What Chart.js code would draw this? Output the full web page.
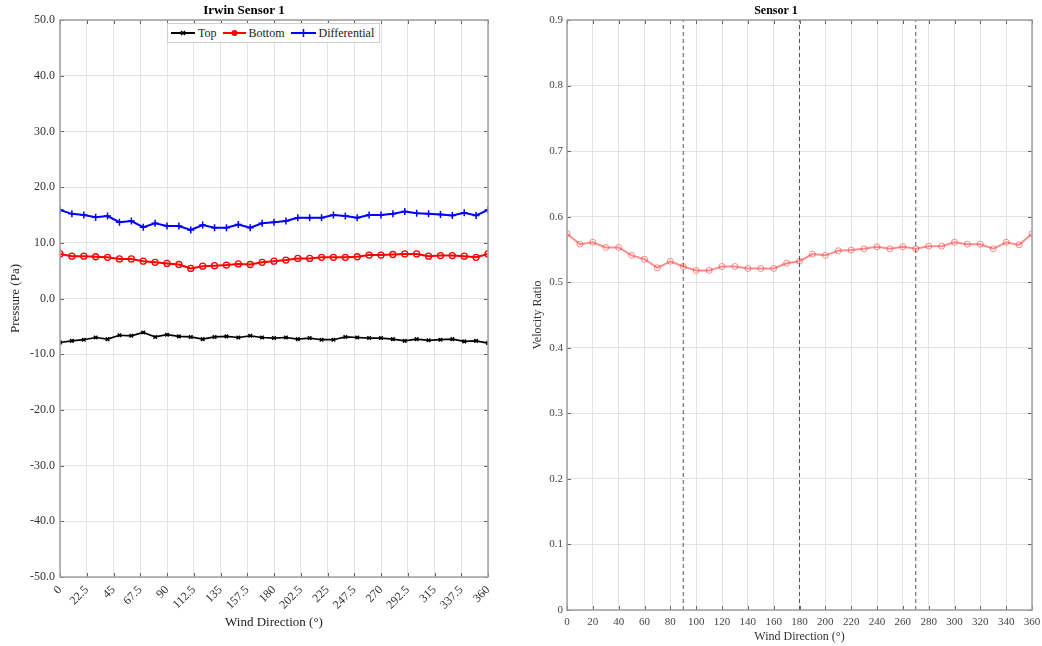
<!DOCTYPE html>
<html>
<head>
<meta charset="utf-8">
<title>Irwin Sensor 1</title>
<script src="https://cdn.jsdelivr.net/npm/chart.js@4.4.1/dist/chart.umd.min.js"></script>
<style>
    body { margin: 0; background: #fff; width: 1042px; height: 646px; overflow: hidden; position: relative; font-family: "Liberation Serif", "Times New Roman", serif; }
    #painelEsquerdo { position: absolute; left: 0; top: 0; width: 520px; height: 646px; }
    #painelDireito { position: absolute; left: 520px; top: 0; width: 522px; height: 646px; }
    .legenda { position: absolute; left: 167px; top: 23px; width: 213px; height: 20px; box-sizing: border-box; border: 1px solid #cfcfcf; background: #fff; display: flex; align-items: center; font-size: 12px; color: #222; padding-left: 2px; }
    .legenda .item { display: flex; align-items: center; margin-right: 5px; }
    .legenda svg { margin-right: 2px; }
</style>
</head>
<body>
<div id="painelEsquerdo">
    <canvas id="graficoPressao" width="520" height="646"></canvas>
    <div class="legenda">
        <span class="item">
            <svg width="26" height="10"><line x1="1" y1="5" x2="25" y2="5" stroke="#000" stroke-width="2"/><path d="M11 3 L15 7 M15 3 L11 7" stroke="#000" stroke-width="1.5"/></svg>Top
        </span>
        <span class="item">
            <svg width="25" height="10"><line x1="1" y1="5" x2="24" y2="5" stroke="#f00" stroke-width="2"/><circle cx="12.5" cy="5" r="3" fill="#f00"/></svg>Bottom
        </span>
        <span class="item">
            <svg width="27" height="10"><line x1="1" y1="5" x2="26" y2="5" stroke="#00f" stroke-width="2"/><path d="M13.5 1 L13.5 9" stroke="#00f" stroke-width="1.5"/></svg>Differential
        </span>
    </div>
</div>
<div id="painelDireito">
    <canvas id="graficoRazao" width="522" height="646"></canvas>
</div>

<script>
// direcoes do vento (graus) em que cada leitura foi feita
const direcoes = [0, 10, 20, 30, 40, 50, 60, 70, 80, 90, 100, 110, 120, 130, 140, 150, 160, 170, 180,
    190, 200, 210, 220, 230, 240, 250, 260, 270, 280, 290, 300, 310, 320, 330, 340, 350, 360];

const pressaoTopo = [-7.9, -7.6, -7.4, -7.0, -7.3, -6.6, -6.7, -6.1, -6.9, -6.5, -6.8, -6.9, -7.3,
    -6.9, -6.8, -7.0, -6.7, -7.0, -7.1, -7.0, -7.3, -7.1, -7.4, -7.4, -6.9, -7.0, -7.1, -7.1,
    -7.3, -7.6, -7.3, -7.5, -7.4, -7.3, -7.7, -7.6, -8.0];

const pressaoBase = [8.0, 7.6, 7.6, 7.5, 7.4, 7.1, 7.1, 6.7, 6.5, 6.3, 6.1, 5.4, 5.8, 5.9, 6.0,
    6.2, 6.1, 6.5, 6.7, 6.9, 7.2, 7.2, 7.4, 7.4, 7.4, 7.5, 7.8, 7.8, 7.9, 8.0, 8.0, 7.6, 7.7,
    7.7, 7.6, 7.4, 8.0];

const pressaoDiferencial = [15.9, 15.2, 15.0, 14.6, 14.8, 13.7, 13.9, 12.8, 13.5, 13.0, 13.0, 12.3,
    13.2, 12.7, 12.7, 13.3, 12.7, 13.5, 13.7, 13.9, 14.5, 14.5, 14.5, 15.0, 14.8, 14.5, 15.0,
    15.0, 15.2, 15.6, 15.3, 15.2, 15.1, 14.9, 15.4, 14.9, 15.9];

const razaoVelocidade = [0.574, 0.558, 0.561, 0.553, 0.553, 0.541, 0.535, 0.522, 0.532, 0.524,
    0.518, 0.518, 0.524, 0.524, 0.521, 0.521, 0.521, 0.529, 0.532, 0.543, 0.541, 0.548, 0.549,
    0.551, 0.554, 0.551, 0.554, 0.551, 0.555, 0.555, 0.561, 0.558, 0.558, 0.551, 0.561, 0.557, 0.574];

const linhasReferencia = [90, 180, 270];

const ticksDirecaoPressao = [0, 22.5, 45, 67.5, 90, 112.5, 135, 157.5, 180, 202.5, 225, 247.5, 270,
    292.5, 315, 337.5, 360];
const ticksPressao = [-50, -40, -30, -20, -10, 0, 10, 20, 30, 40, 50];
const ticksDirecaoRazao = [0, 20, 40, 60, 80, 100, 120, 140, 160, 180, 200, 220, 240, 260, 280,
    300, 320, 340, 360];
const ticksRazao = [0, 0.1, 0.2, 0.3, 0.4, 0.5, 0.6, 0.7, 0.8, 0.9];

Chart.defaults.font.family = '"Liberation Serif", "Times New Roman", serif';
Chart.defaults.color = "#333";

function pontos(valores) {
    return direcoes.map((direcao, i) => ({ x: direcao, y: valores[i] }));
}

function fixarTicks(lista) {
    return scale => { scale.ticks = lista.map(valor => ({ value: valor })); };
}

// caixa em volta do grafico com marcas internas, estilo matlab
const moldura = {
    id: "moldura",
    afterDraw(chart) {
        const { ctx, chartArea, scales } = chart;
        const { left, right, top, bottom } = chartArea;
        ctx.save();
        ctx.strokeStyle = "#666";
        ctx.lineWidth = 1;
        ctx.beginPath();
        scales.x.ticks.forEach(tick => {
            const px = Math.round(scales.x.getPixelForValue(tick.value)) + 0.5;
            ctx.moveTo(px, bottom); ctx.lineTo(px, bottom - 4);
            ctx.moveTo(px, top); ctx.lineTo(px, top + 4);
        });
        scales.y.ticks.forEach(tick => {
            const py = Math.round(scales.y.getPixelForValue(tick.value)) + 0.5;
            ctx.moveTo(left, py); ctx.lineTo(left + 4, py);
            ctx.moveTo(right, py); ctx.lineTo(right - 4, py);
        });
        ctx.stroke();
        ctx.strokeStyle = "#a0a0a0";
        ctx.lineWidth = 1.5;
        ctx.strokeRect(left, top, right - left, bottom - top);
        ctx.restore();
    }
};

new Chart(document.getElementById("graficoPressao"), {
    type: "line",
    data: {
        datasets: [
            {
                label: "Top",
                data: pontos(pressaoTopo),
                borderColor: "#000",
                backgroundColor: "#000",
                borderWidth: 1.7,
                pointStyle: "crossRot",
                pointRadius: 2.5,
                pointBorderWidth: 1.5
            },
            {
                label: "Bottom",
                data: pontos(pressaoBase),
                borderColor: "#ff0000",
                backgroundColor: "#ff0000",
                borderWidth: 2,
                pointStyle: "circle",
                pointRadius: 3,
                pointBorderWidth: 1.3,
                pointBackgroundColor: "rgba(255,255,255,0)"
            },
            {
                label: "Differential",
                data: pontos(pressaoDiferencial),
                borderColor: "#0000ff",
                backgroundColor: "#0000ff",
                borderWidth: 2,
                pointStyle: "cross",
                pointRadius: 3.5,
                pointBorderWidth: 1.5
            }
        ]
    },
    options: {
        responsive: false,
        animation: false,
        layout: { padding: { left: 0, right: 32, top: 0, bottom: 0 } },
        plugins: {
            legend: { display: false },
            tooltip: { enabled: false },
            title: {
                display: true,
                text: "Irwin Sensor 1",
                color: "#000",
                font: { size: 13, weight: "bold" },
                padding: { top: 3, bottom: 1.4 }
            }
        },
        scales: {
            x: {
                type: "linear",
                min: 0,
                max: 360,
                afterBuildTicks: fixarTicks(ticksDirecaoPressao),
                afterFit: scale => { scale.height = 69; },
                ticks: { minRotation: 45, maxRotation: 45, autoSkip: false, padding: 6, font: { size: 12 } },
                grid: { color: "#e4e4e4", drawTicks: false },
                border: { display: false },
                title: { display: true, text: "Wind Direction (°)", color: "#222", font: { size: 13 }, padding: { top: 0, bottom: 16 } }
            },
            y: {
                min: -50,
                max: 50,
                afterBuildTicks: fixarTicks(ticksPressao),
                afterFit: scale => { scale.width = 60; },
                ticks: { callback: valor => Number(valor).toFixed(1), padding: 5, font: { size: 12 } },
                grid: { color: "#e4e4e4", drawTicks: false },
                border: { display: false },
                title: { display: true, text: "Pressure (Pa)", color: "#222", font: { size: 13 }, padding: { top: 8, bottom: 0 } }
            }
        }
    },
    plugins: [moldura]
});

const linhasTracejadas = linhasReferencia.map(direcao => ({
    label: "ref " + direcao,
    data: [{ x: direcao, y: 0 }, { x: direcao, y: 0.9 }],
    borderColor: "#555",
    borderWidth: 1,
    borderDash: [4, 3],
    pointRadius: 0
}));

new Chart(document.getElementById("graficoRazao"), {
    type: "line",
    data: {
        datasets: [
            {
                label: "Sensor 1",
                data: pontos(razaoVelocidade),
                borderColor: "rgba(255, 30, 30, 0.5)",
                backgroundColor: "rgba(255, 30, 30, 0.5)",
                borderWidth: 2,
                pointStyle: "circle",
                pointRadius: 3,
                pointBorderWidth: 1,
                pointBackgroundColor: "rgba(255,255,255,0)"
            },
            ...linhasTracejadas
        ]
    },
    options: {
        responsive: false,
        animation: false,
        layout: { padding: { left: 0, right: 10, top: 0, bottom: 0 } },
        plugins: {
            legend: { display: false },
            tooltip: { enabled: false },
            title: {
                display: true,
                text: "Sensor 1",
                color: "#000",
                font: { size: 12, weight: "bold" },
                padding: { top: 4, bottom: 1.6 }
            }
        },
        scales: {
            x: {
                type: "linear",
                min: 0,
                max: 360,
                afterBuildTicks: fixarTicks(ticksDirecaoRazao),
                afterFit: scale => { scale.height = 36; scale.paddingRight = 0; },
                ticks: { maxRotation: 0, autoSkip: false, padding: 6, color: "#444", font: { size: 11 } },
                grid: { color: "#e4e4e4", drawTicks: false },
                border: { display: false },
                title: { display: true, text: "Wind Direction (°)", color: "#333", font: { size: 12 }, padding: { top: 0, bottom: 2 } }
            },
            y: {
                min: 0,
                max: 0.9,
                afterBuildTicks: fixarTicks(ticksRazao),
                afterFit: scale => { scale.width = 47; },
                ticks: { padding: 4, color: "#444", font: { size: 11 } },
                grid: { color: "#e4e4e4", drawTicks: false },
                border: { display: false },
                title: { display: true, text: "Velocity Ratio", color: "#333", font: { size: 12 }, padding: { top: 11, bottom: 0 } }
            }
        }
    },
    plugins: [moldura]
});
</script>
</body>
</html>
